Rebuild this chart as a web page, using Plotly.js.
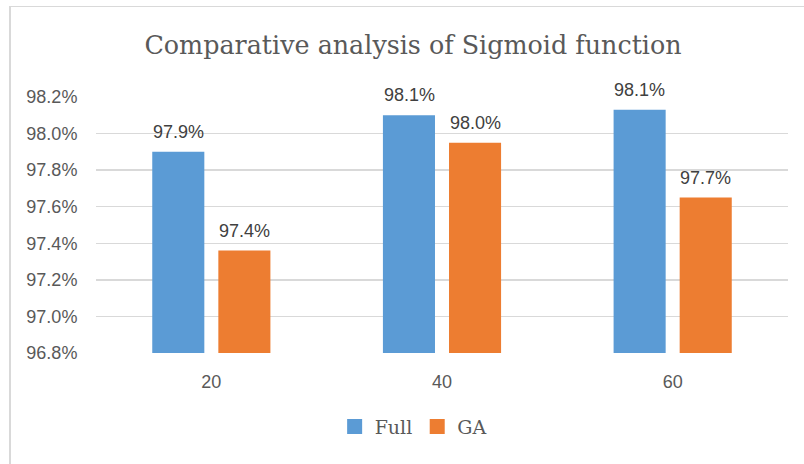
<!DOCTYPE html>
<html>
<head>
<meta charset="utf-8">
<script src="https://cdn.plot.ly/plotly-3.0.1.min.js"></script>
<style>
  html, body { margin: 0; padding: 0; background: #fff; overflow: hidden; }
  #wrap { position: relative; width: 804px; height: 464px; }
  #chart { width: 804px; height: 464px; }
  #frame { position: absolute; left: 9px; top: 6px; width: 900px; height: 600px;
           border-left: 2px solid #d9d9d9; border-top: 1.5px solid #d9d9d9; pointer-events: none; }
</style>
</head>
<body>
<div id="wrap">
  <div id="chart"></div>
  <div id="frame"></div>
</div>
<script>
const categories = ['20', '40', '60'];
const fullValues = [97.90, 98.10, 98.13];
const gaValues = [97.36, 97.95, 97.65];
const seriesNames = ['Full', 'GA'];
const seriesColors = ['#5B9BD5', '#ED7D31'];
const yTicks = [96.8, 97.0, 97.2, 97.4, 97.6, 97.8, 98.0, 98.2];

const series = [fullValues, gaValues];
const traces = series.map((vals, i) => ({
  type: 'bar',
  name: seriesNames[i],
  x: categories,
  y: vals,
  marker: { color: seriesColors[i] },
  showlegend: false,
  hoverinfo: 'skip'
}));
// legend entries with square swatches
seriesNames.forEach((name, i) => {
  traces.push({
    type: 'scatter', mode: 'markers', name: name,
    x: [null], y: [null],
    marker: { symbol: 'square', size: 15, color: seriesColors[i] },
    showlegend: true, hoverinfo: 'skip'
  });
});

const labelFont = { family: 'Liberation Sans, Arial, sans-serif', size: 18, color: '#404040' };
const annotations = [];
series.forEach((vals, i) => {
  vals.forEach((v, j) => {
    annotations.push({
      x: j, y: v, xref: 'x', yref: 'y',
      text: v.toFixed(1) + '%',
      showarrow: false,
      xanchor: 'center', yanchor: 'bottom',
      xshift: i === 0 ? -33 : 33,
      yshift: 8,
      font: labelFont
    });
  });
});

const layout = {
  width: 804, height: 464,
  margin: { l: 96, r: 16.3, t: 97.3, b: 110.7 },
  paper_bgcolor: '#ffffff',
  plot_bgcolor: '#ffffff',
  barmode: 'group',
  bargap: 0.427,
  bargroupgap: 0.212,
  title: {
    text: 'Comparative analysis of Sigmoid function',
    font: { family: 'DejaVu Serif, serif', size: 25.4, color: '#595959' },
    x: 413 / 804, xref: 'container', xanchor: 'center',
    y: 1 - 45 / 464, yref: 'container', yanchor: 'middle'
  },
  xaxis: {
    type: 'category',
    range: [-0.5, 2.5],
    showgrid: false,
    showline: false,
    zeroline: false,
    ticks: 'outside', ticklen: 12, tickcolor: 'rgba(0,0,0,0)',
    tickfont: { family: 'Liberation Sans, Arial, sans-serif', size: 18, color: '#595959' }
  },
  yaxis: {
    range: [96.8, 98.2],
    tickvals: yTicks,
    ticktext: yTicks.map(t => t.toFixed(1) + '%'),
    showgrid: true, gridcolor: '#d9d9d9', gridwidth: 1.3,
    zeroline: false, showline: false,
    ticks: 'outside', ticklen: 14, tickcolor: 'rgba(0,0,0,0)',
    tickfont: { family: 'Liberation Sans, Arial, sans-serif', size: 18, color: '#595959' }
  },
  showlegend: true,
  legend: {
    orientation: 'h',
    x: (413 - 96) / 691.7, xanchor: 'center',
    y: (353.3 - 427) / 256, yanchor: 'middle',
    font: { family: 'DejaVu Serif, serif', size: 19, color: '#595959' },
    itemsizing: 'trace',
    itemwidth: 30
  },
  annotations: annotations
};

Plotly.newPlot('chart', traces, layout, { displayModeBar: false, staticPlot: true });
</script>
</body>
</html>
